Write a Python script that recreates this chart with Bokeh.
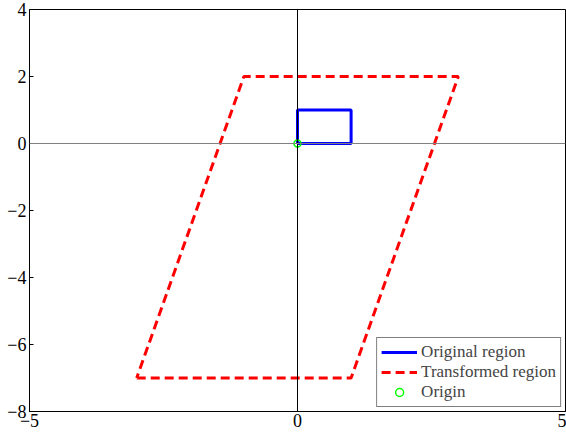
from bokeh.plotting import figure
from bokeh.models import Span, FixedTicker, Range1d, Legend, LegendItem
from bokeh.embed import file_html
from bokeh.resources import INLINE

orig_x = [0, 1, 1, 0, 0]
orig_y = [0, 0, 1, 1, 0]
trans_x = [-3, 1, 3, -1, -3]
trans_y = [-7, -7, 2, 2, -7]
origin_x = [0]
origin_y = [0]
x_ticks = [-5, 0, 5]
y_ticks = [-8, -6, -4, -2, 0, 2, 4]

FONT = "Liberation Serif"

p = figure(frame_width=536, frame_height=402, output_backend="svg", toolbar_location=None,
           x_range=Range1d(-5, 5), y_range=Range1d(-8, 4),
           min_border_left=29, min_border_top=9, min_border_bottom=26, min_border_right=1,
           background_fill_color="white", border_fill_color="white")
p.grid.visible = False
p.outline_line_color = "black"
p.outline_line_width = 1

xa = p.xaxis[0]
ya = p.yaxis[0]
xa.ticker = FixedTicker(ticks=x_ticks)
ya.ticker = FixedTicker(ticks=y_ticks)
for ax in (xa, ya):
    ax.minor_tick_line_color = None
    ax.major_tick_in = 4
    ax.major_tick_out = 0
    ax.axis_line_color = "black"
    ax.major_tick_line_color = "black"
    ax.major_label_text_font = FONT
    ax.major_label_text_font_size = "18px"
    ax.major_label_text_color = "black"
xa.major_label_standoff = 2
ya.major_label_standoff = 3

p.add_layout(Span(location=0, dimension="height", line_color="black", line_width=1))
p.add_layout(Span(location=0, dimension="width", line_color="gray", line_width=1))

r1 = p.line(orig_x, orig_y, line_color="blue", line_width=3)
r2 = p.line(trans_x, trans_y, line_color="red", line_width=3, line_dash="9 5")
r3 = p.scatter(origin_x, origin_y, marker="circle", size=7, fill_color=None,
               line_color="lime", line_width=1.5)

legend = Legend(items=[LegendItem(label="Original region", renderers=[r1]),
                       LegendItem(label="Transformed region", renderers=[r2]),
                       LegendItem(label="Origin", renderers=[r3])],
                location="bottom_right")
legend.label_text_font = FONT
legend.label_text_font_size = "17px"
legend.border_line_color = "black"
legend.border_line_width = 1
legend.background_fill_alpha = 1
legend.margin = 4
legend.padding = 4
legend.spacing = 0
legend.label_height = 20
legend.glyph_height = 20
legend.glyph_width = 36
legend.label_standoff = 4
p.add_layout(legend)

open("out.html", "w").write(file_html(p, INLINE))
